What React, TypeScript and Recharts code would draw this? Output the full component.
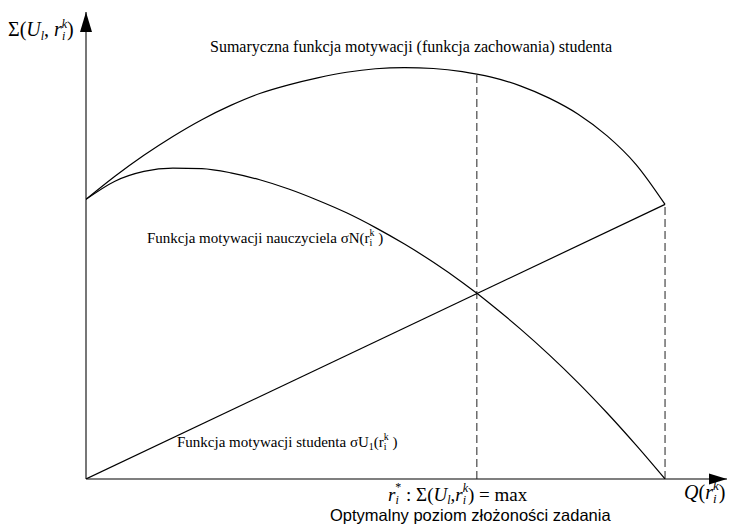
import { LineChart, Line, XAxis, YAxis, ReferenceLine, ReferenceDot, Customized } from 'recharts'

// complexity level Q(r) on the horizontal axis, 100 = end of the scale
const qValues = [0, 5, 10, 15, 20, 25, 30, 35, 40, 45, 50, 55, 60, 65, 67.5, 70, 75, 80, 85, 90, 95, 100]
const sumValues = [100, 108.25, 115.75, 122.5, 128.5, 133.6, 137.85, 140.95, 143.45, 145.45, 146.7, 147.1, 146.8, 145.7, 144.8, 143.7, 140.6, 136.2, 130.45, 122.7, 112.45, 98.2]
const teacherValues = [100, 106.5, 110, 111.2, 111, 109.5, 107, 103.7, 99.7, 95.2, 89.9, 84, 77.5, 70.3, 66.4, 62.3, 53.7, 44.4, 34.4, 23.6, 12.1, 0]
const studentQ = [0, 100]
const studentValues = [0, 98.2]

const optimumQ = 67.5
const optimumSum = 144.8
const endQ = 100
const endSum = 98.2

const X_MAX = 110.7
const Y_MAX = 167

const sumData = qValues.map((q, i) => ({ q, v: sumValues[i] }))
const teacherData = qValues.map((q, i) => ({ q, v: teacherValues[i] }))
const studentData = studentQ.map((q, i) => ({ q, v: studentValues[i] }))

const serif = '"Liberation Serif", "Times New Roman", serif'
const sans = '"Liberation Sans", Arial, sans-serif'

const ArrowRight = (p: any) => (
  <polygon points={`${p.cx},${p.cy} ${p.cx - 18},${p.cy - 5.5} ${p.cx - 18},${p.cy + 5.5}`} fill="#000" />
)
const ArrowUp = (p: any) => (
  <polygon points={`${p.cx},${p.cy} ${p.cx - 6},${p.cy + 20} ${p.cx + 6},${p.cy + 20}`} fill="#000" />
)

const Texts = () => (
  <g fill="#000">
    <text x={8} y={36} fontFamily={serif} fontSize={20}>
      Σ(<tspan fontStyle="italic">U</tspan>
      <tspan fontStyle="italic" fontSize={12} dy={4}>l</tspan>
      <tspan dy={-4}>, </tspan>
      <tspan fontStyle="italic">r</tspan>
      <tspan fontStyle="italic" fontSize={12} dy={4}>i</tspan>
      <tspan fontStyle="italic" fontSize={12} dx={-3.5} dy={-12}>k</tspan>
      <tspan dy={8}>)</tspan>
    </text>
    <text x={210} y={52} fontFamily={serif} fontSize={16}>
      Sumaryczna funkcja motywacji (funkcja zachowania) studenta
    </text>
    <text x={147} y={243} fontFamily={serif} fontSize={15}>
      Funkcja motywacji nauczyciela σN(r
      <tspan fontSize={10} dy={3}>i</tspan>
      <tspan fontSize={10} dx={-2.8} dy={-10}>k</tspan>
      <tspan dy={7}> )</tspan>
    </text>
    <text x={177} y={447} fontFamily={serif} fontSize={15}>
      Funkcja motywacji studenta σU
      <tspan fontSize={10} dy={3}>1</tspan>
      <tspan dy={-3}>(r</tspan>
      <tspan fontSize={10} dy={3}>i</tspan>
      <tspan fontSize={10} dx={-2.8} dy={-10}>k</tspan>
      <tspan dy={7}> )</tspan>
    </text>
    <text x={388} y={501} fontFamily={serif} fontSize={19}>
      <tspan fontStyle="italic">r</tspan>
      <tspan fontStyle="italic" fontSize={12} dy={3}>i</tspan>
      <tspan fontSize={12} dx={-3.4} dy={-13}>*</tspan>
      <tspan dy={10}> : Σ(</tspan>
      <tspan fontStyle="italic">U</tspan>
      <tspan fontStyle="italic" fontSize={12} dy={3}>l</tspan>
      <tspan dy={-3}>,</tspan>
      <tspan fontStyle="italic">r</tspan>
      <tspan fontStyle="italic" fontSize={12} dy={3}>i</tspan>
      <tspan fontStyle="italic" fontSize={12} dx={-3.4} dy={-12}>k</tspan>
      <tspan dy={9}>) = max</tspan>
    </text>
    <text x={330} y={521} fontFamily={sans} fontSize={16.5}>
      Optymalny poziom złożoności zadania
    </text>
    <text x={684} y={499} fontFamily={serif} fontSize={20}>
      <tspan fontStyle="italic">Q</tspan>(<tspan fontStyle="italic">r</tspan>
      <tspan fontStyle="italic" fontSize={13} dy={4}>i</tspan>
      <tspan fontStyle="italic" fontSize={13} dx={-3.6} dy={-13}>k</tspan>
      <tspan dy={9}>)</tspan>
    </text>
  </g>
)

export default function App() {
  return (
    <div style={{ position: 'absolute', left: 0, top: 0, background: '#fff' }}>
      <LineChart width={732} height={528} margin={{ top: 12, right: 5, bottom: 49, left: 86 }}>
        <XAxis type="number" dataKey="q" domain={[0, X_MAX]} hide allowDataOverflow />
        <YAxis type="number" domain={[0, Y_MAX]} hide allowDataOverflow />
        <ReferenceLine segment={[{ x: 0, y: 0 }, { x: 0, y: Y_MAX }]} stroke="#555" strokeWidth={1.6} />
        <ReferenceLine segment={[{ x: 0, y: 0 }, { x: X_MAX, y: 0 }]} stroke="#000" strokeWidth={1.2} />
        <ReferenceLine segment={[{ x: optimumQ, y: 0 }, { x: optimumQ, y: optimumSum }]} stroke="#222" strokeDasharray="8 4" />
        <ReferenceLine segment={[{ x: endQ, y: 0 }, { x: endQ, y: endSum }]} stroke="#555" strokeWidth={1.3} strokeDasharray="8 4" />
        <Line data={sumData} dataKey="v" type="monotone" stroke="#000" strokeWidth={1.2} dot={false} isAnimationActive={false} />
        <Line data={teacherData} dataKey="v" type="monotone" stroke="#000" strokeWidth={1.2} dot={false} isAnimationActive={false} />
        <Line data={studentData} dataKey="v" type="linear" stroke="#000" strokeWidth={1.2} dot={false} isAnimationActive={false} />
        <ReferenceDot x={X_MAX} y={0} r={0} shape={ArrowRight} ifOverflow="visible" />
        <ReferenceDot x={0} y={Y_MAX} r={0} shape={ArrowUp} ifOverflow="visible" />
        <Customized component={Texts} />
      </LineChart>
    </div>
  )
}
